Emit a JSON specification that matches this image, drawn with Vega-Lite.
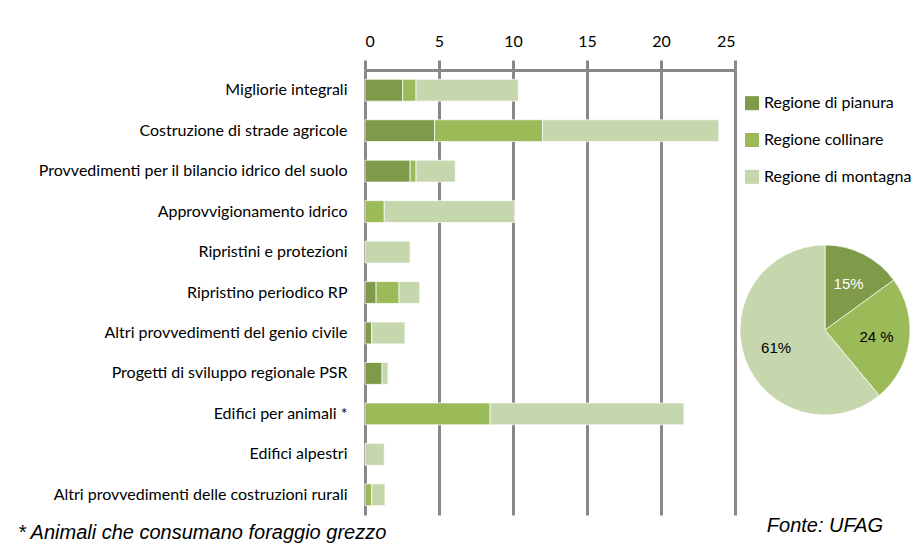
{
  "$schema": "https://vega.github.io/schema/vega-lite/v6.json",
  "padding": {"left": 17, "top": 33, "right": 0, "bottom": 0},
  "autosize": {"type": "pad"},
  "background": "white",
  "bounds": "flush",
  "spacing": 5,
  "config": {"view": {"stroke": null}, "font": "Lato"},
  "datasets": {
    "bars": [
      {"category": "Migliorie integrali", "region": "Regione di pianura", "k": 1, "value": 2.55},
      {"category": "Migliorie integrali", "region": "Regione collinare", "k": 2, "value": 0.9},
      {"category": "Migliorie integrali", "region": "Regione di montagna", "k": 3, "value": 6.9},
      {"category": "Costruzione di strade agricole", "region": "Regione di pianura", "k": 1, "value": 4.7},
      {"category": "Costruzione di strade agricole", "region": "Regione collinare", "k": 2, "value": 7.3},
      {"category": "Costruzione di strade agricole", "region": "Regione di montagna", "k": 3, "value": 11.9},
      {"category": "Provvedimenti per il bilancio idrico del suolo", "region": "Regione di pianura", "k": 1, "value": 3.05},
      {"category": "Provvedimenti per il bilancio idrico del suolo", "region": "Regione collinare", "k": 2, "value": 0.4},
      {"category": "Provvedimenti per il bilancio idrico del suolo", "region": "Regione di montagna", "k": 3, "value": 2.65},
      {"category": "Approvvigionamento idrico", "region": "Regione collinare", "k": 2, "value": 1.3},
      {"category": "Approvvigionamento idrico", "region": "Regione di montagna", "k": 3, "value": 8.8},
      {"category": "Ripristini e protezioni", "region": "Regione di montagna", "k": 3, "value": 3.05},
      {"category": "Ripristino periodico RP", "region": "Regione di pianura", "k": 1, "value": 0.75},
      {"category": "Ripristino periodico RP", "region": "Regione collinare", "k": 2, "value": 1.55},
      {"category": "Ripristino periodico RP", "region": "Regione di montagna", "k": 3, "value": 1.4},
      {"category": "Altri provvedimenti del genio civile", "region": "Regione di pianura", "k": 1, "value": 0.45},
      {"category": "Altri provvedimenti del genio civile", "region": "Regione di montagna", "k": 3, "value": 2.25},
      {"category": "Progetti di sviluppo regionale PSR", "region": "Regione di pianura", "k": 1, "value": 1.15},
      {"category": "Progetti di sviluppo regionale PSR", "region": "Regione di montagna", "k": 3, "value": 0.4},
      {"category": "Edifici per animali *", "region": "Regione collinare", "k": 2, "value": 8.45},
      {"category": "Edifici per animali *", "region": "Regione di montagna", "k": 3, "value": 13.1},
      {"category": "Edifici alpestri", "region": "Regione di montagna", "k": 3, "value": 1.3},
      {"category": "Altri provvedimenti delle costruzioni rurali", "region": "Regione collinare", "k": 2, "value": 0.45},
      {"category": "Altri provvedimenti delle costruzioni rurali", "region": "Regione di montagna", "k": 3, "value": 0.9}
    ],
    "pie": [
      {"region": "Regione di pianura", "k": 1, "pct": 15, "label": "15%"},
      {"region": "Regione collinare", "k": 2, "pct": 24, "label": "24 %"},
      {"region": "Regione di montagna", "k": 3, "pct": 61, "label": "61%"}
    ]
  },
  "hconcat": [
    {
      "width": 370,
      "height": 445,
      "data": {"name": "bars"},
      "title": {"text": "* Animali che consumano foraggio grezzo", "orient": "bottom", "anchor": "start", "font": "Liberation Sans", "fontStyle": "italic", "fontWeight": "normal", "fontSize": 20, "offset": 8, "dx": -20, "color": "#000"},
      "mark": {"type": "bar", "stroke": "white", "strokeWidth": 0.7},
      "encoding": {
        "y": {"field": "category", "type": "nominal", "sort": null,
          "scale": {"paddingInner": 0.46, "paddingOuter": 0.23},
          "axis": {"title": null, "labelFontSize": 16, "labelPadding": 18, "ticks": false, "domain": false, "labelColor": "#000", "labelLimit": 500, "labelFont": "Lato"}},
        "x": {"field": "value", "type": "quantitative", "stack": "zero",
          "scale": {"domain": [0, 25], "nice": false},
          "axis": {"orient": "top", "title": null, "values": [0, 5, 10, 15, 20, 25], "grid": true, "gridColor": "#888888", "gridWidth": 3, "domainColor": "#888888", "domainWidth": 3, "tickColor": "#888888", "tickWidth": 3, "tickSize": 10, "labelPadding": 11, "labelFontSize": 16, "labelColor": "#000", "labelFont": "Lato"}},
        "color": {"field": "region", "type": "nominal",
          "scale": {"domain": ["Regione di pianura", "Regione collinare", "Regione di montagna"], "range": ["#7f9a48", "#9bbb59", "#c6d6ad"]},
          "legend": null},
        "order": {"field": "k"}
      }
    },
    {
      "vconcat": [
        {
          "width": 24,
          "height": 140,
          "data": {"name": "pie"},
          "layer": [
            {
              "mark": {"type": "square", "size": 196, "opacity": 1, "filled": true},
              "encoding": {
                "y": {"field": "region", "type": "nominal", "sort": null, "scale": {"type": "point", "padding": 0.9}, "axis": null},
                "color": {"field": "region", "type": "nominal", "legend": null}
              }
            },
            {
              "mark": {"type": "text", "align": "left", "dx": 12, "fontSize": 16, "font": "Lato", "color": "#000"},
              "encoding": {
                "y": {"field": "region", "type": "nominal", "sort": null, "axis": null},
                "text": {"field": "region"}
              }
            }
          ]
        },
        {
          "width": 170,
          "height": 170,
          "data": {"name": "pie"},
          "title": {"text": "Fonte: UFAG", "orient": "bottom", "anchor": "middle", "offset": 100, "font": "Liberation Sans", "fontStyle": "italic", "fontWeight": "normal", "fontSize": 20, "color": "#000"},
          "layer": [
            {
              "mark": {"type": "arc", "outerRadius": 85, "stroke": "white", "strokeWidth": 0.7},
              "encoding": {
                "theta": {"field": "pct", "type": "quantitative", "stack": true},
                "color": {"field": "region", "type": "nominal", "legend": null},
                "order": {"field": "k"}
              }
            },
            {
              "mark": {"type": "text", "radius": 52, "fontSize": 15, "font": "Liberation Sans"},
              "encoding": {
                "theta": {"field": "pct", "type": "quantitative", "stack": true},
                "order": {"field": "k"},
                "text": {"field": "label"},
                "color": {"condition": {"test": "datum.k == 1", "value": "white"}, "value": "black"}
              }
            }
          ]
        }
      ],
      "spacing": 35,
      "bounds": "flush"
    }
  ]
}
